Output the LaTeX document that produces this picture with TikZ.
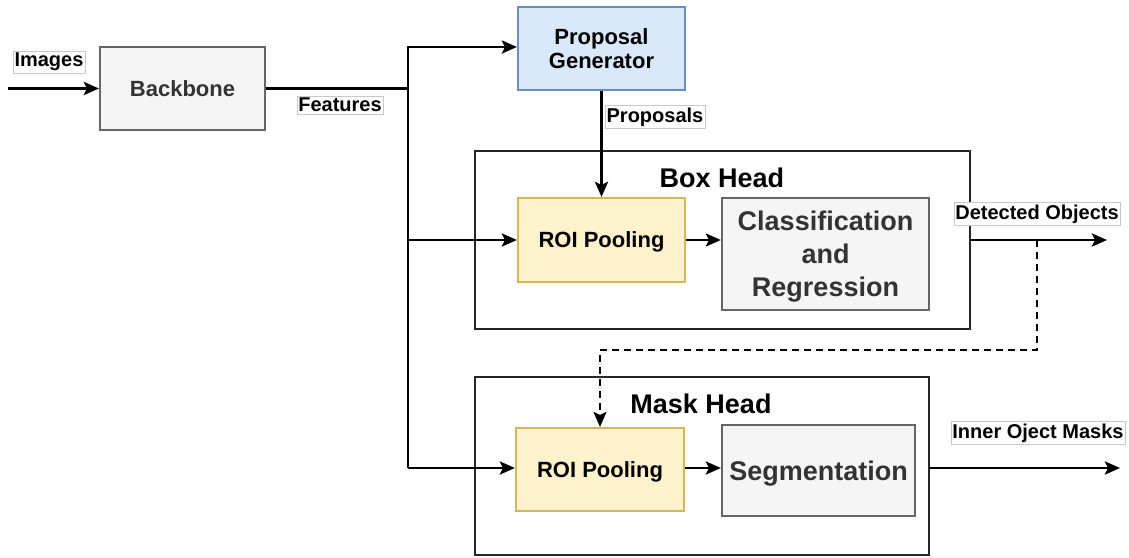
\documentclass[tikz,border=0pt]{standalone}
\usepackage{fontspec}
\setmainfont{Liberation Sans}
\usetikzlibrary{arrows.meta,calc}
\definecolor{grayfill}{HTML}{F5F5F5}
\definecolor{graystroke}{HTML}{666666}
\definecolor{graytext}{HTML}{333333}
\definecolor{bluefill}{HTML}{DAE8FC}
\definecolor{bluestroke}{HTML}{6C8EBF}
\definecolor{yellowfill}{HTML}{FFF2CC}
\definecolor{yellowstroke}{HTML}{D6B656}
\definecolor{labelstroke}{HTML}{C8C8C8}
\tikzset{
  box/.style={draw, line width=2.2pt, inner sep=0pt, align=center, text depth=0pt, font=\bfseries\fontsize{22}{26}\selectfont},
  graybox/.style={box, fill=grayfill, draw=graystroke, text=graytext},
  bluebox/.style={box, fill=bluefill, draw=bluestroke},
  yellowbox/.style={box, fill=yellowfill, draw=yellowstroke},
  container/.style={draw=black!85, line width=2.6pt},
  title/.style={font=\bfseries\fontsize{27}{32}\selectfont},
  lab/.style={draw=labelstroke, fill=white, line width=0.6pt, inner xsep=1.5pt, inner ysep=2pt, font=\bfseries\fontsize{20}{23}\selectfont},
  conn/.style={line width=2.7pt, -{Stealth[length=15pt,width=13pt,inset=3pt]}},
  plain/.style={line width=2.7pt},
}
\begin{document}
\begin{tikzpicture}[x=1pt,y=-1pt]
\useasboundingbox (0,0) rectangle (1129,557);
% containers
\draw[container] (475,151) rectangle (970,329);
\draw[container] (475,377) rectangle (929,555);
\coordinate (boxE) at (970,240);
\coordinate (maskE) at (929,468);
\node[title] (bhT) at (722,178) {Box Head};
\node[title] (mhT) at (701,404) {Mask Head};
% nodes
\node[graybox, minimum width=165, minimum height=83] (bb) at (182.5,88.5) {Backbone};
\node[bluebox, minimum width=167, minimum height=83] (pg) at (601.5,48.5) {Proposal\\[-2pt]Generator};
\node[yellowbox, minimum width=167, minimum height=84] (roi1) at (601.5,240) {ROI Pooling};
\node[graybox, minimum width=207, minimum height=112, font=\bfseries\fontsize{27}{33}\selectfont] (cr) at (825.5,254) {Classification\\and\\Regression};
\node[yellowbox, minimum width=168, minimum height=83] (roi2) at (600,469.5) {ROI Pooling};
\node[graybox, minimum width=193, minimum height=91, font=\bfseries\fontsize{27}{33}\selectfont] (seg) at (818.5,470.5) {Segmentation};
% coordinates
\coordinate (in) at (8,88.5);
\coordinate (split) at (408,88.5);
\coordinate (top) at (408,47);
\coordinate (mid) at (408,240);
\coordinate (bot) at (408,468);
\coordinate (detEnd) at (1107,240);
\coordinate (dTap) at (1037,240);
\coordinate (dMid) at (1037,350);
\coordinate (dLeft) at (600,350);
\coordinate (maskEnd) at (1120,468);
% connectors
\draw[conn] (in) -- (bb.west);
\draw[plain] (bb.east) -- (split);
\draw[conn] (split) -- (top) -- (top -| pg.west);
\draw[plain] (split) -- (bot);
\draw[conn] (mid) -- (roi1.west);
\draw[conn] (bot) -- (bot -| roi2.west);
\draw[conn] (pg.south) -- (roi1.north);
\draw[conn] (roi1.east) -- (roi1.east -| cr.west);
\draw[conn] (boxE) -- (detEnd);
\draw[line width=2.2pt, dashed, dash pattern=on 7pt off 5pt, -{Stealth[length=15pt,width=13pt,inset=3pt]}] (dTap) -- (dMid) -- (dLeft) -- (roi2.north);
\draw[conn] (roi2.east |- bot) -- (seg.west |- bot);
\draw[conn] (maskE) -- (maskEnd);
% labels
\node[lab] (lImages) at (49,62) {Images};
\node[lab] (lFeat) at (340,105) {Features};
\node[lab] (lProp) at (655,117) {Proposals};
\node[lab] (lDet) at (1037,214) {Detected Objects};
\node[lab] (lMask) at (1038,433) {Inner Oject Masks};
\end{tikzpicture}
\end{document}
